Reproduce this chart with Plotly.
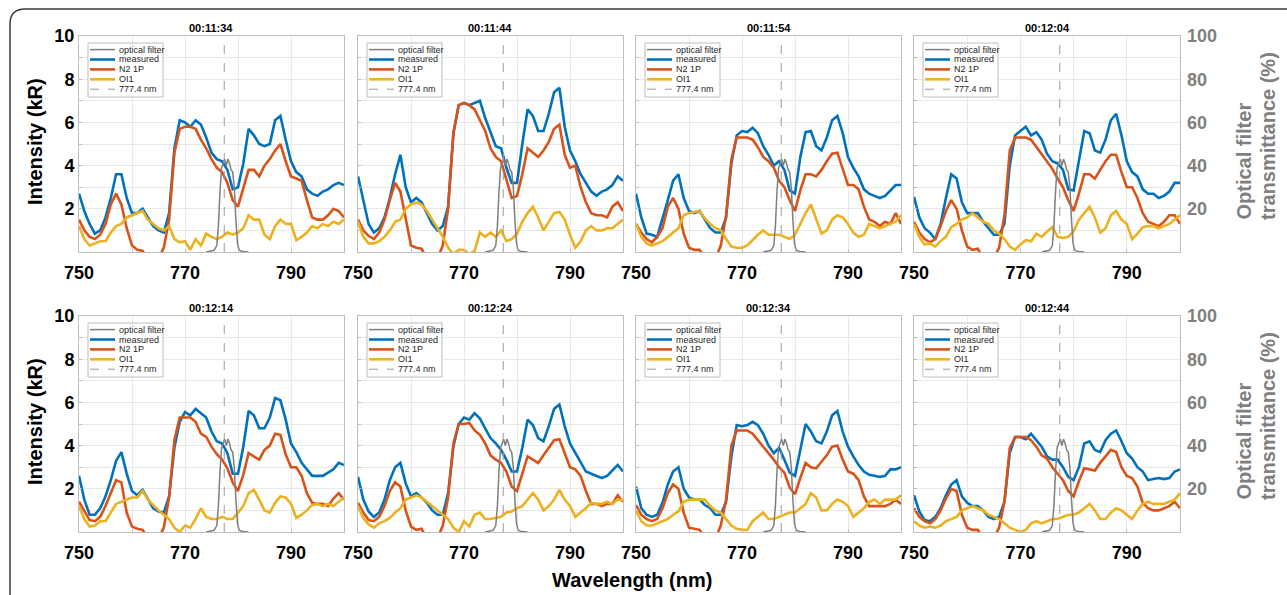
import plotly.graph_objects as go

# ---------------- data ----------------
wavelength = list(range(750, 801))  # nm, 1 nm steps

timestamps = ["00:11:34", "00:11:44", "00:11:54", "00:12:04",
              "00:12:14", "00:12:24", "00:12:34", "00:12:44"]

x_tick_vals = [750, 760, 770, 780, 790, 800]
x_tick_text = ["750", "", "770", "", "790", ""]
y_tick_vals = [0, 1, 2, 3, 4, 5, 6, 7, 8, 9, 10]
y_tick_text = ["", "", "2", "", "4", "", "6", "", "8", "", "10"]
y2_tick_vals = [0, 20, 40, 60, 80, 100]
y2_tick_text = ["", "20", "40", "60", "80", "100"]

filter_wl = [774, 775, 775.5, 776, 776.3, 776.6, 776.9, 777.2, 777.5, 777.8, 778.1,
             778.4, 778.7, 779.0, 779.3, 779.6, 779.9, 780.2, 780.5, 781, 782]
filter_pct = [0, 0.3, 0.8, 3, 12, 28, 39, 41, 43, 40, 43,
              41, 38, 37, 30, 15, 4, 1, 0.5, 0.2, 0]

oi_line_nm = 777.4

measured_1 = [2.7,1.9,1.3,0.85,1.0,1.6,2.5,3.6,3.6,2.5,1.8, 1.8,2.0,1.6,1.2,1.0,0.9,1.8,4.8,6.1,6.0,
              5.8,6.1,5.9,5.3,4.6,4.3,4.2,3.8,2.9,3.0, 4.1,5.7,5.4,5.0,4.9,5.0,6.1,6.3,5.2,4.2,
              3.7,3.5,2.9,2.7,2.6,2.8,2.9,3.1,3.2,3.1]
n2_1 = [1.5,1.0,0.7,0.6,0.8,1.3,2.2,2.7,2.2,1.1,0.3, 0.1,0.05,-0.3,-0.4,-0.3,0.2,1.5,4.6,5.7,5.8,
        5.8,5.7,5.2,4.8,4.3,3.9,3.7,3.2,2.4,2.1, 3.0,3.8,3.8,3.5,4.0,4.3,4.7,5.0,4.2,3.5,
        3.4,3.3,2.4,1.6,1.5,1.5,1.7,2.0,1.9,1.6]
oi1_1 = [1.2,0.6,0.3,0.4,0.5,0.5,0.9,1.2,1.3,1.6,1.7, 1.8,1.9,1.5,1.3,1.1,1.0,1.2,0.6,0.45,0.5,
         0.1,0.6,0.3,0.85,0.7,0.6,0.7,0.9,0.8,0.9, 1.1,1.7,1.5,1.5,0.8,0.6,1.2,1.5,1.3,1.3,
         0.55,0.7,0.9,1.2,1.1,1.3,1.2,1.4,1.3,1.5]

measured_2 = [3.5,2.4,1.3,0.9,1.1,1.6,2.5,3.6,4.5,3.0,2.3, 2.5,2.3,1.8,1.3,1.0,1.2,2.1,5.5,6.8,6.9,
              6.8,6.9,7.0,6.2,5.5,4.9,4.8,3.9,3.2,3.2, 5.0,6.6,6.3,5.6,5.6,6.4,7.4,7.6,5.8,4.7,
              4.2,3.6,3.2,2.8,2.6,2.8,2.9,3.1,3.5,3.3]
n2_2 = [1.5,1.0,0.75,0.6,0.9,1.5,2.4,3.2,2.8,1.5,0.3, 0.2,0.15,-0.3,-0.4,-0.3,0.3,2.0,5.5,6.8,6.9,
        6.8,6.6,6.1,5.6,4.8,4.4,4.2,3.4,2.5,2.6, 3.6,4.8,4.6,4.4,4.7,5.1,5.7,5.9,4.5,3.9,
        4.0,3.0,2.3,1.8,1.7,1.7,1.6,2.1,2.3,1.9]
oi1_2 = [1.4,0.7,0.4,0.4,0.5,0.7,1.0,1.4,1.5,2.0,2.2, 2.3,2.2,1.9,1.5,1.1,0.7,0.2,-0.1,0.1,0.1,
         -0.1,0.05,0.9,0.7,0.9,0.7,1.0,0.5,0.6,0.85, 1.4,1.8,2.1,1.6,1.0,1.4,1.8,1.85,1.5,0.8,
         0.2,0.5,1.0,1.2,1.0,1.0,1.1,1.1,1.3,1.5]

measured_3 = [2.7,1.6,0.85,0.8,0.7,1.5,2.4,3.3,3.6,2.5,1.9, 1.8,1.9,1.5,1.1,0.9,0.9,1.6,4.1,5.4,5.6,
              5.55,5.75,5.5,4.9,4.5,4.0,4.2,3.8,2.85,2.7, 4.4,5.55,5.6,4.9,4.7,5.3,6.1,6.3,5.5,4.4,
              3.9,3.5,2.9,2.7,2.6,2.5,2.6,2.85,3.1,3.1]
n2_3 = [1.3,0.9,0.6,0.45,0.7,1.1,2.1,2.5,2.0,0.85,0.2, 0.1,0.1,-0.3,-0.4,-0.3,0.3,1.7,4.3,5.3,5.3,
        5.3,5.2,4.85,4.4,4.2,3.9,3.3,3.0,2.4,1.9, 2.85,3.6,3.6,3.5,3.8,4.2,4.55,4.6,3.8,3.1,
        3.1,2.9,2.1,1.5,1.4,1.2,1.4,1.3,1.8,1.3]
oi1_3 = [1.3,0.7,0.4,0.3,0.4,0.5,0.7,0.9,1.1,1.7,1.8, 1.85,1.9,1.55,1.3,1.1,1.0,0.6,0.25,0.2,0.2,
         0.3,0.55,0.8,1.0,0.8,0.8,0.8,0.7,0.6,0.8, 1.3,1.8,2.2,1.5,0.85,1.0,1.5,1.7,1.6,1.3,
         0.9,0.7,0.8,1.3,1.2,1.1,1.2,1.3,1.4,1.7]

measured_4 = [2.55,1.6,1.1,0.9,0.6,1.3,2.5,3.6,3.4,2.3,1.8, 1.8,1.8,1.4,1.1,0.8,0.8,1.3,4.0,5.4,5.6,
              5.8,5.4,5.55,5.2,4.55,4.2,4.1,3.8,2.9,2.85, 4.2,5.6,5.5,4.7,4.6,5.2,6.1,6.4,5.4,4.2,
              3.7,3.5,2.9,2.7,2.7,2.5,2.6,2.8,3.2,3.2]
n2_4 = [1.4,0.9,0.6,0.45,0.6,1.2,1.9,2.4,2.0,1.0,0.25, 0.1,0.15,-0.3,-0.4,-0.3,0.2,1.7,4.7,5.3,5.3,
        5.3,5.2,4.85,4.5,4.2,3.85,3.4,3.0,2.4,1.9, 2.7,3.6,3.6,3.4,3.8,4.2,4.5,4.5,3.7,3.0,
        3.0,2.5,1.8,1.4,1.3,1.2,1.4,1.7,1.7,1.3]
oi1_4 = [1.3,0.7,0.35,0.4,0.25,0.5,0.7,1.15,1.3,1.5,1.6, 1.8,1.6,1.4,1.3,1.0,0.85,0.6,0.25,0.1,0.35,
         0.55,0.5,0.85,0.7,0.95,1.15,0.7,0.65,0.7,0.95, 1.5,1.8,2.1,1.6,0.9,1.1,1.7,1.9,1.5,1.3,
         0.6,0.85,1.15,1.2,1.2,1.1,1.2,1.3,1.5,1.7]

measured_5 = [2.6,1.5,0.8,0.8,1.1,1.65,2.4,3.3,3.7,2.7,1.9, 1.7,1.95,1.5,1.1,0.95,0.9,1.65,3.9,5.1,5.55,
              5.4,5.7,5.5,5.3,4.65,4.2,4.1,3.65,2.7,2.7, 3.95,5.6,5.4,4.8,4.8,5.3,6.2,6.1,5.2,4.1,
              3.7,3.2,2.9,2.6,2.6,2.6,2.75,2.9,3.2,3.1]
n2_5 = [1.4,1.0,0.55,0.5,0.7,1.2,1.8,2.4,2.3,0.9,0.25, 0.15,0.1,-0.3,-0.4,-0.3,0.2,1.6,4.25,5.3,5.3,
        5.3,5.1,4.55,4.4,3.95,3.6,3.35,2.95,2.3,1.9, 2.65,3.65,3.5,3.35,3.8,4.0,4.55,4.5,3.6,3.0,
        3.0,2.6,1.8,1.35,1.3,1.3,1.2,1.55,1.8,1.5]
oi1_5 = [1.2,0.6,0.25,0.3,0.5,0.5,0.9,1.3,1.4,1.5,1.6, 1.6,1.9,1.5,1.25,1.0,0.8,0.6,0.2,0.0,0.3,
         0.2,0.6,1.1,0.7,0.6,0.6,0.7,0.6,0.6,0.9, 1.2,1.8,1.95,1.5,1.0,0.9,1.35,1.65,1.6,1.3,
         0.65,0.8,1.0,1.25,1.3,1.2,1.3,1.2,1.4,1.6]

measured_6 = [2.55,1.5,0.95,0.7,0.9,1.5,2.4,3.0,3.2,2.25,1.65, 1.8,1.6,1.35,1.0,0.8,0.8,1.8,3.95,5.0,5.3,
              5.2,5.5,5.25,4.8,4.35,4.1,3.8,3.35,2.8,2.8, 3.9,5.2,4.95,4.35,4.2,4.9,5.7,5.9,4.9,4.1,
              3.65,3.2,2.8,2.7,2.6,2.5,2.6,2.85,3.1,2.8]
n2_6 = [1.35,0.9,0.55,0.5,0.7,1.2,1.9,2.3,2.1,1.0,0.25, 0.1,0.15,-0.3,-0.4,-0.3,0.3,1.6,4.1,5.0,5.0,
        5.05,4.7,4.5,4.1,3.55,3.35,3.2,2.8,2.1,1.9, 2.7,3.5,3.35,3.2,3.55,3.9,4.25,4.3,3.6,3.0,
        2.9,2.6,1.9,1.3,1.3,1.2,1.3,1.3,1.7,1.4]
oi1_6 = [1.2,0.65,0.35,0.2,0.4,0.5,0.65,0.9,1.1,1.5,1.6, 1.7,1.6,1.4,1.2,1.0,0.8,0.6,0.2,0.0,0.5,
         0.25,0.8,0.9,0.6,0.6,0.65,0.7,0.9,0.95,1.1, 1.2,1.5,1.8,1.5,1.0,1.2,1.5,1.95,1.5,1.2,
         0.7,0.9,1.1,1.35,1.3,1.3,1.4,1.3,1.5,1.5]

measured_7 = [2.1,1.1,0.8,0.7,0.8,1.35,2.2,2.8,3.0,2.0,1.6, 1.5,1.5,1.25,1.1,0.8,0.8,1.4,3.5,4.95,4.9,
              4.95,5.1,4.95,4.55,4.0,3.65,3.9,3.35,2.75,2.6, 3.8,5.0,4.65,4.2,4.1,4.65,5.4,5.6,4.65,3.95,
              3.5,3.1,2.8,2.65,2.6,2.55,2.6,2.9,2.9,3.0]
n2_7 = [1.25,0.8,0.6,0.5,0.6,1.1,1.8,2.2,2.0,0.9,0.2, 0.15,0.1,-0.3,-0.4,-0.3,0.3,1.5,4.0,4.7,4.7,
        4.7,4.55,4.25,3.95,3.7,3.35,3.0,2.75,2.05,1.75, 2.5,3.2,3.0,2.95,3.25,3.55,3.95,4.0,3.35,2.8,
        2.7,2.4,1.65,1.2,1.2,1.2,1.2,1.3,1.5,1.3]
oi1_7 = [1.0,0.5,0.3,0.3,0.4,0.5,0.6,0.8,0.95,1.4,1.5, 1.5,1.5,1.5,1.2,1.0,0.9,0.6,0.3,0.15,0.1,
         0.1,0.5,0.7,0.9,0.6,0.6,0.7,0.8,0.9,0.9, 1.1,1.3,1.8,1.6,1.0,1.0,1.3,1.5,1.4,1.2,
         0.7,0.9,1.1,1.4,1.5,1.3,1.5,1.5,1.5,1.7]

measured_8 = [1.7,0.95,0.55,0.5,0.7,1.1,1.7,2.2,2.4,1.65,1.35, 1.2,1.2,1.0,0.7,0.6,0.7,1.4,3.65,4.4,4.4,
              4.3,4.55,4.25,3.95,3.5,3.35,3.35,3.0,2.55,2.4, 3.0,4.1,4.2,3.8,3.7,4.25,4.55,4.7,4.2,3.65,
              3.4,3.0,2.8,2.4,2.45,2.5,2.45,2.5,2.8,2.9]
n2_8 = [1.1,0.7,0.5,0.4,0.6,1.0,1.55,2.0,1.9,0.8,0.2, 0.1,0.1,-0.3,-0.4,-0.3,0.2,1.4,3.9,4.4,4.4,
        4.4,4.25,3.95,3.55,3.4,3.0,2.7,2.4,1.9,1.65, 2.35,2.95,2.9,2.85,3.2,3.5,3.8,3.7,3.0,2.6,
        2.5,2.1,1.35,1.1,1.0,1.0,1.1,1.2,1.4,1.1]
oi1_8 = [0.5,0.3,0.2,0.25,0.2,0.3,0.5,0.6,0.7,1.0,1.1, 1.2,1.1,1.0,0.8,0.7,0.6,0.4,0.2,0.1,0.0,
         0.1,0.4,0.5,0.4,0.5,0.6,0.6,0.7,0.8,0.8, 0.9,1.1,1.3,1.0,0.6,0.6,0.9,1.1,1.0,0.8,
         0.6,1.0,1.3,1.4,1.3,1.3,1.3,1.4,1.5,1.8]

legend_labels = ["optical filter", "measured", "N2 1P", "OI1", "777.4 nm"]
right_title_lines = ["Optical filter", "transmittance (%)"]

measured_all = [measured_1, measured_2, measured_3, measured_4,
                measured_5, measured_6, measured_7, measured_8]
n2_all = [n2_1, n2_2, n2_3, n2_4, n2_5, n2_6, n2_7, n2_8]
oi1_all = [oi1_1, oi1_2, oi1_3, oi1_4, oi1_5, oi1_6, oi1_7, oi1_8]

# ---------------- styling / layout ----------------
W, H = 1287, 595
FONT = "Liberation Sans"
C_BLUE, C_RED, C_YEL = "#0072BD", "#D95319", "#EDB120"
C_FILT, C_DASH = "#7F7F7F", "#9a9a9a"
C_GRID, C_AXLINE = "#e8e8e8", "#bfbfbf"

def fx(p):
    return p / W

def fy(p):
    return 1 - p / H

x_px = [(79, 344), (358, 623), (636, 901), (914, 1180)]
y_px = [(36, 252), (316, 532)]

fig = go.Figure()
layout = {}
shapes = []
annotations = []

for i in range(8):
    k = i + 1
    row, col = divmod(i, 4)
    xa = "x" if k == 1 else f"x{k}"
    ya = "y" if k == 1 else f"y{k}"
    yr = f"y{k + 8}"
    xl, xr = x_px[col]
    yt, yb = y_px[row]

    fig.add_trace(go.Scatter(x=wavelength, y=measured_all[i], xaxis=xa, yaxis=ya, mode="lines",
                             line=dict(color=C_BLUE, width=2.6), showlegend=False))
    fig.add_trace(go.Scatter(x=wavelength, y=n2_all[i], xaxis=xa, yaxis=ya, mode="lines",
                             line=dict(color=C_RED, width=2.6), showlegend=False))
    fig.add_trace(go.Scatter(x=wavelength, y=oi1_all[i], xaxis=xa, yaxis=ya, mode="lines",
                             line=dict(color=C_YEL, width=2.6), showlegend=False))
    fig.add_trace(go.Scatter(x=filter_wl, y=filter_pct, xaxis=xa, yaxis=yr, mode="lines",
                             line=dict(color=C_FILT, width=1.5), showlegend=False))

    xname = "xaxis" if k == 1 else f"xaxis{k}"
    yname = "yaxis" if k == 1 else f"yaxis{k}"
    layout[xname] = dict(
        domain=[fx(xl), fx(xr)], anchor=ya, range=[750, 800], automargin=False,
        tickmode="array", tickvals=x_tick_vals, ticktext=x_tick_text,
        showgrid=True, gridcolor=C_GRID, gridwidth=1, zeroline=False,
        showline=True, linecolor=C_AXLINE, linewidth=1, mirror=True,
        ticks="inside", ticklen=3, tickcolor=C_AXLINE, ticklabelstandoff=4,
        tickfont=dict(family=FONT, size=18, color="#000000", weight="bold"),
    )
    layout[yname] = dict(
        domain=[fy(yb), fy(yt)], anchor=xa, range=[0, 10], automargin=False,
        tickmode="array", tickvals=y_tick_vals,
        ticktext=y_tick_text if col == 0 else [""] * len(y_tick_vals),
        showgrid=True, gridcolor=C_GRID, gridwidth=1, zeroline=False,
        showline=True, linecolor=C_AXLINE, linewidth=1, mirror=True,
        ticks="inside", ticklen=3, tickcolor=C_AXLINE,
        tickfont=dict(family=FONT, size=18, color="#000000", weight="bold"),
    )
    layout[f"yaxis{k + 8}"] = dict(
        overlaying=ya, anchor=xa, side="right", range=[0, 100], automargin=False,
        tickmode="array", tickvals=y2_tick_vals,
        ticktext=y2_tick_text if col == 3 else [""] * len(y2_tick_vals),
        showgrid=False, zeroline=False, showline=False,
        ticks="", tickfont=dict(family=FONT, size=18, color="#7f7f7f", weight="bold"),
        ticklabelstandoff=6,
    )

    # 777.4 nm dashed line
    shapes.append(dict(type="line", xref=xa, yref=f"{ya} domain", x0=oi_line_nm, x1=oi_line_nm,
                       y0=0, y1=1, line=dict(color=C_DASH, width=1, dash="dash")))

    # panel title
    annotations.append(dict(text=timestamps[i], xref="paper", yref="paper",
                            x=fx((xl + xr) / 2), y=fy(yt - 8), showarrow=False,
                            xanchor="center", yanchor="middle",
                            font=dict(family=FONT, size=11, color="#000000", weight="bold")))

    # legend box
    shapes.append(dict(type="rect", xref="paper", yref="paper",
                       x0=fx(xl + 9), x1=fx(xl + 84), y0=fy(yt + 7), y1=fy(yt + 61),
                       fillcolor="#ffffff", line=dict(color="#bdbdbd", width=1), layer="above"))
    leg_styles = [(C_FILT, 1.5, "solid"), (C_BLUE, 2.6, "solid"), (C_RED, 2.6, "solid"),
                  (C_YEL, 2.6, "solid"), (C_DASH, 1, "dash")]
    for j, (lab, (c, w, d)) in enumerate(zip(legend_labels, leg_styles)):
        yy = yt + 13.6 + 9.9 * j
        shapes.append(dict(type="line", xref="paper", yref="paper",
                           x0=fx(xl + 11), x1=fx(xl + 36), y0=fy(yy), y1=fy(yy),
                           line=dict(color=c, width=w, dash=d), layer="above"))
        annotations.append(dict(text=lab, xref="paper", yref="paper", x=fx(xl + 37.5), y=fy(yy),
                                showarrow=False, xanchor="left", yanchor="middle",
                                font=dict(family=FONT, size=9, color="#262626")))

# axis titles
for yc in (142, 422):
    annotations.append(dict(text="Intensity (kR)", xref="paper", yref="paper", x=fx(35), y=fy(yc),
                            showarrow=False, textangle=-90, xanchor="center", yanchor="middle",
                            font=dict(family=FONT, size=20, color="#000000", weight="bold")))
for ybot in (222, 502):
    for line_txt, xc in zip(right_title_lines, (1243, 1268)):
        annotations.append(dict(text=line_txt, xref="paper", yref="paper",
                                x=fx(xc), y=fy(ybot), showarrow=False, textangle=-90,
                                xanchor="center", yanchor="bottom",
                                font=dict(family=FONT, size=20, color="#7f7f7f", weight="bold")))
annotations.append(dict(text="Wavelength (nm)", xref="paper", yref="paper", x=fx(632), y=fy(580),
                        showarrow=False, xanchor="center", yanchor="middle",
                        font=dict(family=FONT, size=20, color="#000000", weight="bold")))

# outer rounded frame (top + left edges)
frame = (f"M {fx(10)},{fy(600)} L {fx(10)},{fy(24)} "
         f"Q {fx(10)},{fy(9)} {fx(25)},{fy(9)} L {fx(1290)},{fy(9)}")
shapes.append(dict(type="path", xref="paper", yref="paper", path=frame,
                   line=dict(color="#3c3c3c", width=1.5)))

fig.update_layout(
    width=W, height=H, margin=dict(l=0, r=0, t=0, b=0, autoexpand=False),
    paper_bgcolor="#ffffff", plot_bgcolor="#ffffff",
    showlegend=False, shapes=shapes, annotations=annotations,
    font=dict(family=FONT), **layout,
)

fig.write_html("out.html")
